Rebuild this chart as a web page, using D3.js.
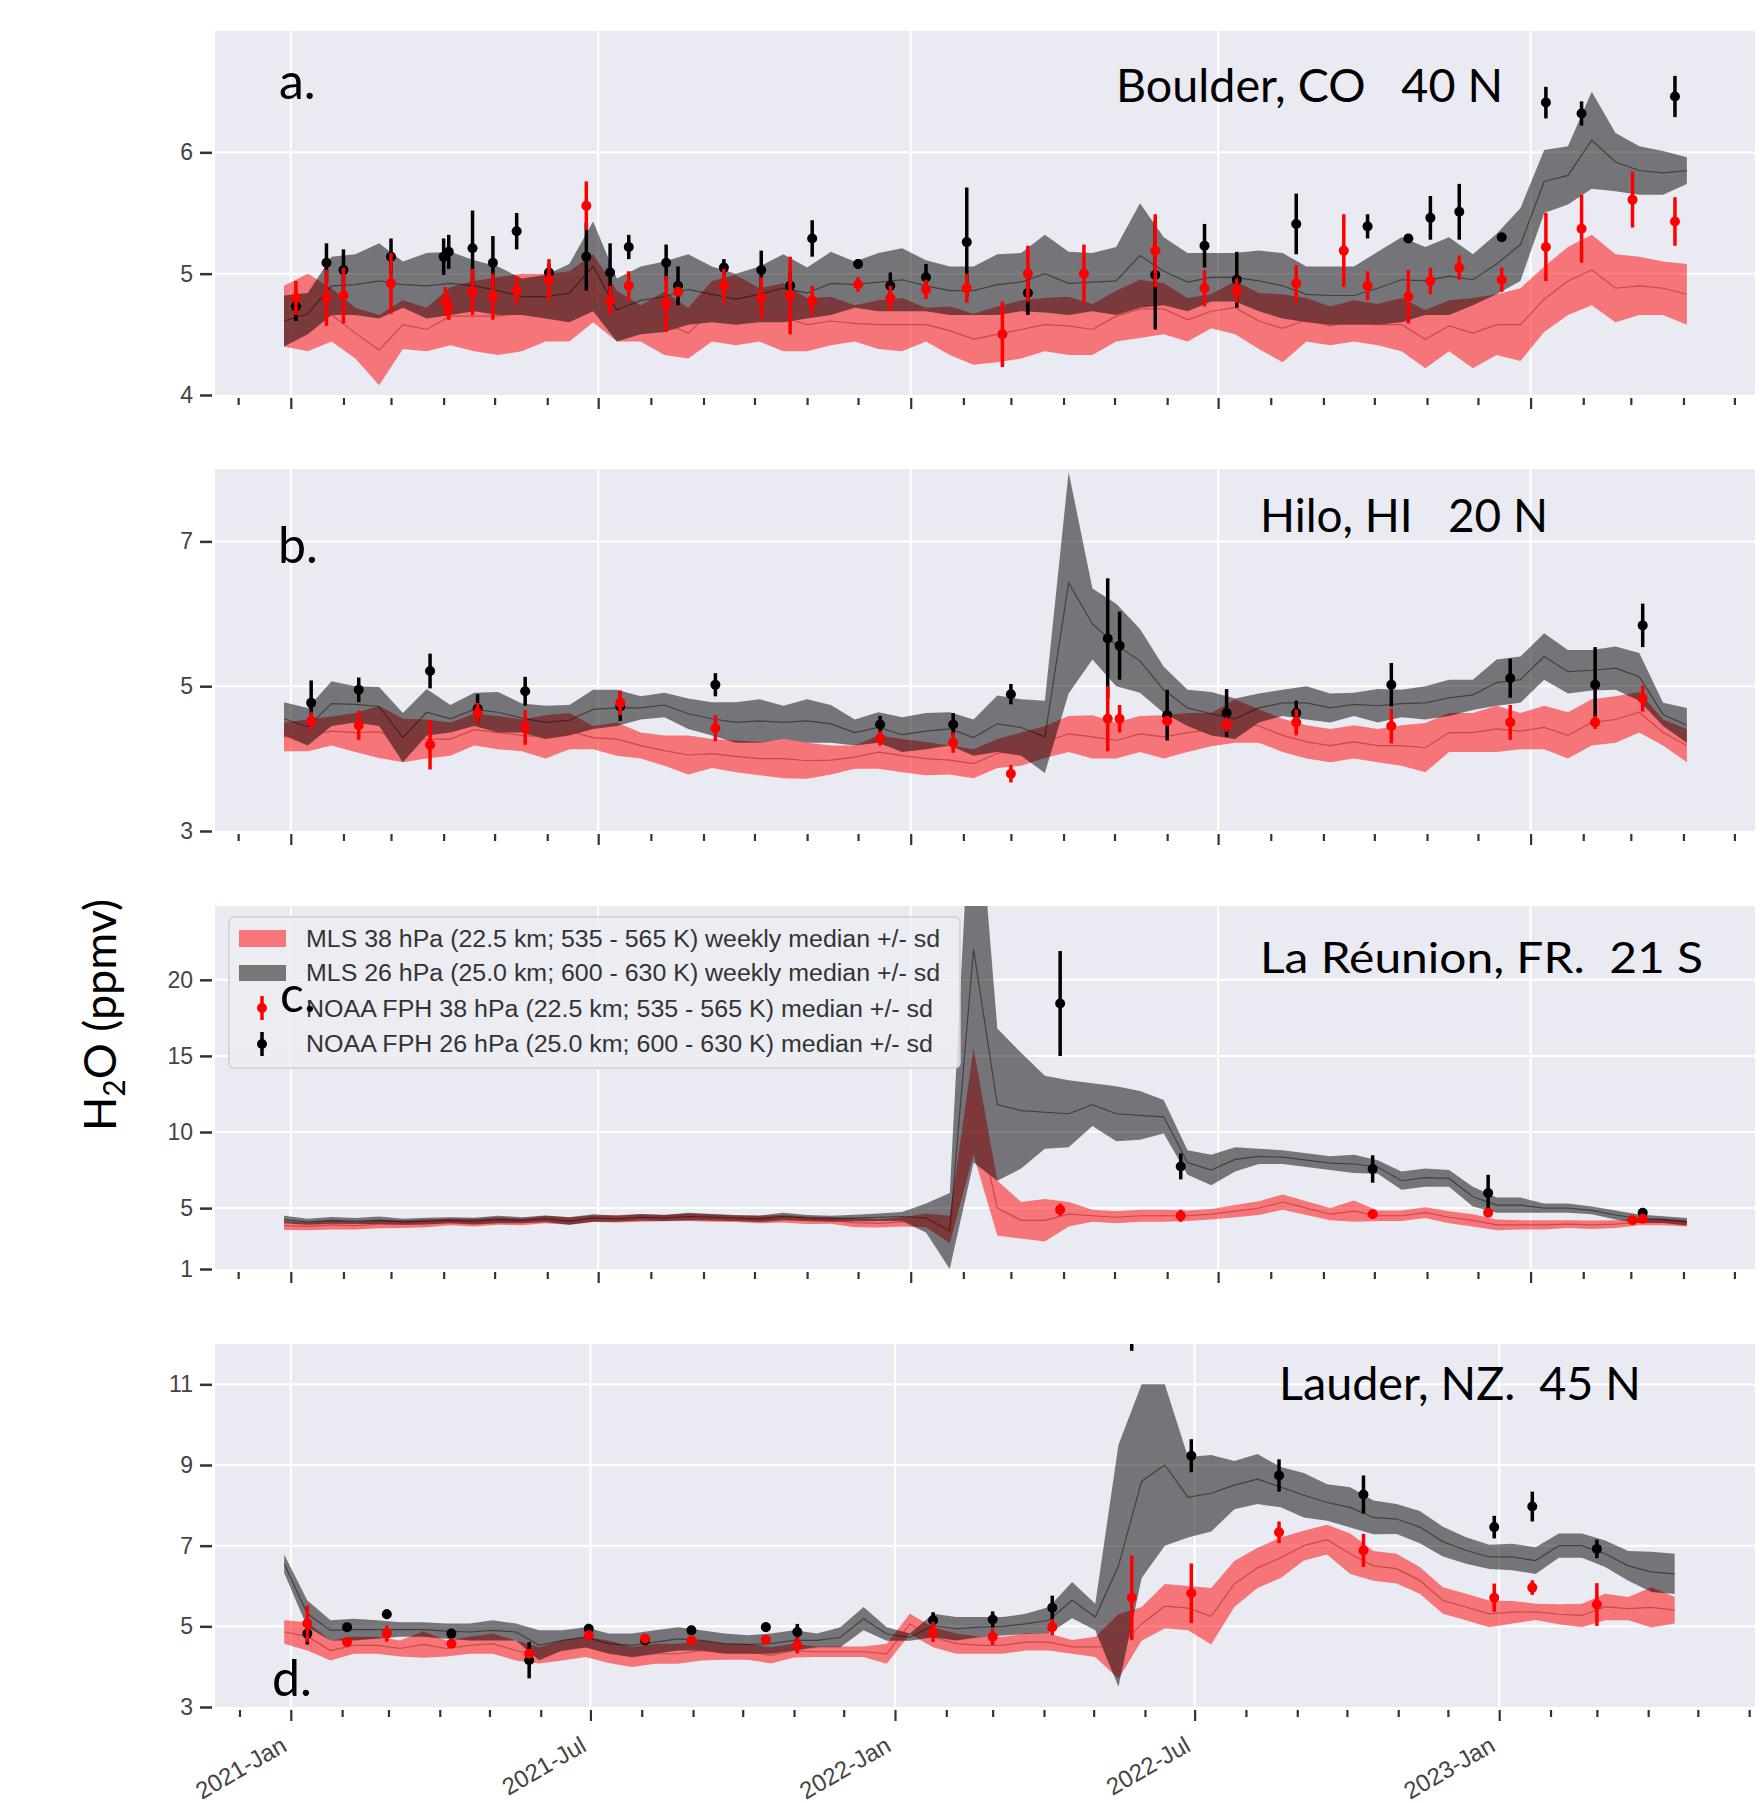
<!DOCTYPE html>
<html>
<head>
<meta charset="utf-8">
<script src="https://cdn.jsdelivr.net/npm/d3@7"></script>
<style>
  body { margin: 0; background: #fff; }
  svg { display: block; }
</style>
</head>
<body>
<div id="chart"></div>
<script>
// MLS weekly series: start date and spacing of the samples
const mlsStart = new Date(Date.UTC(2020, 11, 28));
const mlsStepDays = 14;

// Boulder, CO
const boulder26Mid = [4.61,4.67,4.9,4.91,4.94,4.91,4.9,4.92,4.9,4.86,4.81,4.81,4.84,5.06,4.7,4.78,4.81,4.87,4.83,4.79,4.83,4.88,4.84,4.92,4.91,4.93,4.95,4.9,4.86,4.86,4.91,4.93,5.0,4.92,4.93,4.94,5.15,5.02,4.93,4.97,4.97,4.94,4.9,4.83,4.82,4.82,4.88,4.95,4.94,4.98,4.95,5.08,5.24,5.76,5.81,6.1,5.92,5.85,5.83,5.85];
const boulder26Sd  = [.21,.17,.24,.25,.31,.19,.27,.26,.21,.2,.15,.18,.24,.37,.26,.28,.29,.29,.23,.21,.23,.28,.21,.26,.19,.24,.26,.21,.2,.2,.25,.24,.32,.26,.24,.28,.43,.28,.24,.2,.2,.25,.27,.23,.24,.24,.3,.35,.28,.32,.21,.25,.3,.26,.24,.4,.24,.2,.18,.11];
const boulder38Mid = [4.65,4.68,4.66,4.51,4.37,4.58,4.54,4.65,4.65,4.65,4.68,4.72,4.73,4.88,4.65,4.59,4.59,4.51,4.69,4.7,4.66,4.64,4.58,4.61,4.59,4.58,4.58,4.58,4.53,4.46,4.5,4.54,4.58,4.57,4.54,4.65,4.71,4.71,4.62,4.69,4.72,4.61,4.55,4.62,4.57,4.61,4.58,4.58,4.46,4.57,4.51,4.58,4.58,4.79,4.94,5.03,4.88,4.9,4.88,4.83];
const boulder38Sd  = [.25,.32,.22,.21,.29,.2,.18,.24,.29,.32,.32,.28,.29,.28,.21,.15,.26,.21,.25,.29,.22,.28,.22,.2,.15,.2,.22,.14,.2,.21,.23,.24,.22,.24,.21,.21,.24,.21,.18,.14,.22,.23,.28,.18,.16,.17,.17,.22,.24,.21,.29,.25,.3,.27,.28,.29,.28,.24,.22,.25];
const boulderFph26 = [["2021-01-04",4.73,.12],["2021-01-22",5.09,.16],["2021-02-01",5.03,.17],["2021-03-01",5.14,.15],["2021-04-01",5.14,.15],["2021-04-04",5.18,.14],["2021-04-18",5.21,.31],["2021-04-30",5.09,.22],["2021-05-14",5.35,.15],["2021-06-02",5.01,.07],["2021-06-24",5.14,.28],["2021-07-08",5.01,.24],["2021-07-19",5.22,.1],["2021-08-10",5.09,.15],["2021-08-17",4.9,.16],["2021-09-13",5.05,.07],["2021-10-05",5.03,.16],["2021-10-22",4.9,.12],["2021-11-04",5.29,.15],["2021-12-01",5.08,.04],["2021-12-20",4.9,.11],["2022-01-10",4.97,.11],["2022-02-03",5.26,.45],["2022-03-11",4.84,.18],["2022-05-25",4.99,.45],["2022-06-23",5.23,.18],["2022-07-12",4.95,.23],["2022-08-16",5.41,.25],["2022-09-27",5.39,.1],["2022-10-21",5.29,0],["2022-11-03",5.46,.18],["2022-11-20",5.51,.23],["2022-12-15",5.3,0],["2023-01-10",6.41,.13],["2023-01-31",6.32,.1],["2023-03-27",6.46,.17]];
const boulderFph38 = [["2021-01-04",4.8,.14],["2021-01-22",4.8,.23],["2021-02-01",4.82,.23],["2021-03-01",4.92,.25],["2021-04-02",4.77,.12],["2021-04-04",4.72,.1],["2021-04-18",4.85,.19],["2021-04-30",4.81,.19],["2021-05-14",4.86,.12],["2021-06-02",4.95,.17],["2021-06-24",5.56,.2],["2021-07-08",4.78,.12],["2021-07-19",4.9,.12],["2021-08-10",4.75,.23],["2021-08-17",4.85,.03],["2021-09-13",4.9,.14],["2021-10-05",4.8,.17],["2021-10-22",4.82,.32],["2021-11-04",4.78,.12],["2021-12-01",4.91,.06],["2021-12-20",4.8,.1],["2022-01-10",4.87,.08],["2022-02-03",4.88,.12],["2022-02-24",4.5,.27],["2022-03-11",5.0,.23],["2022-04-13",5.0,.24],["2022-05-25",5.19,.3],["2022-06-23",4.88,.15],["2022-07-12",4.86,.1],["2022-08-16",4.92,.15],["2022-09-13",5.19,.3],["2022-09-27",4.9,.12],["2022-10-21",4.81,.22],["2022-11-03",4.94,.11],["2022-11-20",5.05,.1],["2022-12-15",4.95,.1],["2023-01-10",5.22,.28],["2023-01-31",5.37,.28],["2023-03-02",5.61,.23],["2023-03-27",5.43,.2]];

// Hilo, HI
const hilo26Mid = [4.55,4.44,4.76,4.75,4.72,4.29,4.64,4.55,4.68,4.64,4.56,4.5,4.53,4.68,4.7,4.7,4.74,4.62,4.55,4.5,4.52,4.5,4.52,4.48,4.36,4.43,4.33,4.38,4.41,4.29,4.48,4.43,4.3,6.43,5.86,5.57,5.35,4.95,4.7,4.62,4.55,4.7,4.77,4.77,4.7,4.75,4.73,4.76,4.77,4.84,4.88,5.05,5.09,5.41,5.2,5.22,5.25,5.13,4.61,4.46];
const hilo26Sd  = [.23,.26,.31,.25,.27,.34,.32,.19,.23,.28,.2,.23,.21,.27,.25,.16,.17,.21,.23,.28,.3,.23,.3,.26,.18,.21,.24,.25,.23,.25,.39,.39,.5,1.53,.49,.57,.44,.32,.25,.3,.28,.2,.18,.23,.2,.16,.23,.19,.23,.25,.21,.32,.32,.32,.3,.28,.3,.33,.16,.24];
const hilo38Mid = [4.3,4.32,4.38,4.36,4.37,4.25,4.27,4.27,4.4,4.36,4.32,4.3,4.38,4.29,4.27,4.18,4.11,4.05,4.07,4.03,4.0,4.0,3.97,3.98,4.02,4.09,4.04,4.0,3.98,3.93,4.07,4.13,4.23,4.34,4.3,4.25,4.34,4.3,4.36,4.4,4.52,4.45,4.32,4.23,4.18,4.23,4.18,4.18,4.15,4.36,4.36,4.41,4.38,4.43,4.32,4.5,4.54,4.64,4.36,4.18];
const hilo38Sd  = [.2,.22,.2,.27,.36,.3,.27,.23,.22,.23,.22,.3,.25,.16,.23,.18,.21,.27,.2,.22,.23,.27,.25,.2,.16,.23,.23,.23,.2,.2,.2,.23,.22,.25,.3,.25,.25,.3,.27,.23,.3,.23,.23,.23,.23,.23,.23,.28,.34,.27,.27,.32,.25,.3,.32,.32,.32,.28,.18,.23];
const hiloFph26 = [["2021-01-13",4.77,.31],["2021-02-10",4.95,.17],["2021-03-24",5.21,.24],["2021-04-21",4.69,.2],["2021-05-19",4.93,.2],["2021-07-14",4.72,.2],["2021-09-08",5.02,.16],["2021-12-14",4.47,.12],["2022-01-26",4.47,.16],["2022-03-01",4.89,.14],["2022-04-27",5.66,.83],["2022-05-04",5.56,.47],["2022-06-01",4.6,.35],["2022-07-06",4.63,.33],["2022-08-16",4.63,.17],["2022-10-11",5.02,.3],["2022-12-20",5.11,.27],["2023-02-08",5.02,.52],["2023-03-08",5.84,.3]];
const hiloFph38 = [["2021-01-13",4.52,.12],["2021-02-10",4.46,.2],["2021-03-24",4.19,.34],["2021-04-21",4.63,.14],["2021-05-19",4.43,.24],["2021-07-14",4.77,.17],["2021-09-08",4.42,.18],["2021-12-14",4.28,.1],["2022-01-26",4.22,.14],["2022-03-01",3.79,.12],["2022-04-27",4.55,.45],["2022-05-04",4.55,.19],["2022-06-01",4.52,.07],["2022-07-06",4.47,.1],["2022-08-16",4.5,.18],["2022-10-11",4.45,.24],["2022-12-20",4.5,.24],["2023-02-08",4.5,.09],["2023-03-08",4.83,.18]];

// La Reunion
const reunion26Mid = [4.25,4.1,4.2,4.15,4.2,4.1,4.15,4.2,4.15,4.25,4.2,4.3,4.15,4.35,4.3,4.4,4.35,4.45,4.4,4.35,4.3,4.45,4.35,4.3,4.35,4.4,4.45,4.35,3.5,22,11.8,11.4,11.3,11.2,11.8,11.2,11.1,11.0,8.0,7.5,8.2,8.4,8.35,8.15,7.95,7.9,7.7,6.8,7.0,6.95,5.75,5.2,5.2,5.0,5.0,4.85,4.55,4.3,4.25,4.1];
const reunion26Sd  = [.25,.2,.22,.2,.25,.2,.22,.2,.22,.25,.2,.22,.25,.25,.2,.22,.2,.25,.22,.2,.22,.25,.2,.2,.22,.25,.3,.95,2.5,14,5,3.8,2.4,2.2,1.4,1.8,1.6,1.1,.8,1.0,.8,.5,.45,.45,.45,.6,.45,.6,.6,.55,.65,.5,.5,.3,.3,.25,.3,.28,.22,.25];
const reunion38Mid = [3.85,3.8,3.9,3.85,3.95,3.95,4.0,4.1,4.05,4.15,4.1,4.25,4.15,4.3,4.3,4.35,4.35,4.4,4.35,4.3,4.25,4.3,4.2,4.2,4.05,4.0,4.1,4.2,3.6,12,5.0,4.2,4.2,4.6,4.5,4.4,4.5,4.5,4.5,4.6,4.8,5.0,5.4,5.0,4.6,4.8,4.5,4.5,4.7,4.4,4.2,3.9,3.9,3.9,3.95,3.9,3.95,4.1,4.1,4.0];
const reunion38Sd  = [.28,.25,.3,.25,.28,.25,.25,.22,.25,.25,.22,.25,.25,.22,.25,.25,.22,.25,.25,.22,.25,.25,.25,.22,.3,.28,.3,.45,.9,3.5,1.8,1.2,1.4,.8,.4,.4,.4,.4,.35,.35,.4,.45,.5,.45,.4,.7,.35,.35,.35,.4,.4,.35,.3,.3,.25,.28,.25,.22,.22,.2];
const reunionFph26 = [["2022-03-30",18.44,3.45],["2022-06-09",7.74,.85],["2022-09-30",7.57,.9],["2022-12-07",5.99,1.2],["2023-03-08",4.7,.25]];
const reunionFph38 = [["2022-03-30",4.9,.4],["2022-06-09",4.5,.4],["2022-09-30",4.6,.1],["2022-12-07",4.7,.2],["2023-03-02",4.2,.1],["2023-03-08",4.3,.15]];

// Lauder, NZ
const lauder26Mid = [6.55,5.31,4.9,4.92,4.92,4.92,4.92,4.88,4.86,4.9,4.86,4.53,4.65,4.73,4.57,4.53,4.61,4.69,4.65,4.57,4.55,4.57,4.65,4.65,4.73,5.19,4.81,4.73,5.02,4.94,4.98,5.0,5.06,5.15,5.65,5.23,6.5,8.6,9.0,8.2,8.3,8.5,8.65,8.45,8.25,8.07,7.95,7.7,7.66,7.46,7.1,6.88,6.72,6.72,6.63,7.0,7.0,6.8,6.5,6.35,6.3];
const lauder26Sd  = [.23,.33,.25,.27,.23,.18,.18,.19,.21,.25,.21,.37,.25,.25,.25,.29,.29,.29,.25,.25,.23,.25,.25,.17,.25,.29,.17,.09,.29,.29,.25,.23,.25,.33,.45,.33,3.0,2.4,2.0,1.0,.95,.6,.62,.5,.55,.45,.5,.42,.37,.4,.37,.33,.3,.33,.33,.3,.3,.33,.37,.5,.5];
const lauder38Mid = [4.86,4.75,4.4,4.53,4.53,4.45,4.55,4.45,4.53,4.57,4.4,4.28,4.4,4.49,4.37,4.24,4.32,4.32,4.4,4.37,4.37,4.28,4.4,4.37,4.37,4.37,4.32,5.06,4.73,4.57,4.53,4.53,4.61,4.61,4.49,4.49,4.5,5.06,5.5,5.45,5.25,6.05,6.45,6.7,7.0,7.15,6.8,6.5,6.43,6.14,5.64,5.48,5.31,5.35,5.36,5.3,5.27,5.48,5.44,5.47,5.4];
const lauder38Sd  = [.29,.35,.25,.21,.21,.2,.33,.2,.21,.25,.25,.2,.25,.25,.28,.25,.25,.25,.25,.2,.2,.2,.17,.13,.13,.13,.25,.25,.25,.25,.21,.21,.21,.21,.17,.25,.8,.42,.55,.55,.7,.57,.5,.5,.37,.37,.5,.37,.37,.33,.33,.33,.33,.28,.2,.25,.29,.33,.29,.5,.33];
const lauderFph26 = [["2021-01-11",4.82,.27],["2021-02-04",4.98,.1],["2021-02-28",5.3,.12],["2021-04-08",4.82,.1],["2021-05-25",4.16,.45],["2021-06-30",4.94,.12],["2021-08-03",4.65,.1],["2021-08-31",4.9,.1],["2021-10-15",4.98,.12],["2021-11-03",4.86,.2],["2022-01-24",5.15,.2],["2022-03-01",5.17,.2],["2022-04-06",5.46,.3],["2022-05-24",13.0,1.17],["2022-06-29",9.23,.41],["2022-08-21",8.74,.4],["2022-10-11",8.27,.47],["2022-12-29",7.46,.28],["2023-01-21",7.97,.37],["2023-03-01",6.92,.23]];
const lauderFph38 = [["2021-01-11",5.07,.45],["2021-02-04",4.61,.08],["2021-02-28",4.82,.2],["2021-04-08",4.57,.1],["2021-05-25",4.32,.1],["2021-06-30",4.78,.1],["2021-08-03",4.7,.05],["2021-08-31",4.65,.1],["2021-10-15",4.67,.1],["2021-11-03",4.53,.2],["2022-01-24",4.86,.25],["2022-03-01",4.74,.2],["2022-04-06",4.98,.2],["2022-05-24",5.71,1.05],["2022-06-29",5.82,.74],["2022-08-21",7.33,.27],["2022-10-11",6.88,.41],["2022-12-29",5.71,.35],["2023-01-21",5.96,.18],["2023-03-01",5.54,.53]];

const legendLabels = [
  'MLS 38 hPa (22.5 km; 535 - 565 K) weekly median +/- sd',
  'MLS 26 hPa (25.0 km; 600 - 630 K) weekly median +/- sd',
  'NOAA FPH 38 hPa (22.5 km; 535 - 565 K) median +/- sd',
  'NOAA FPH 26 hPa (25.0 km; 600 - 630 K) median +/- sd'
];
const xLabelFormat = d3.utcFormat('%Y-%b');

// layout
const W = 1762, H = 1803;
const plotLeft = 215, plotRight = 1755;
const bgColor = '#eaeaf2';
const tickFont = '"Liberation Sans", Arial, sans-serif';
const titleFont = 'Lato, "Open Sans", sans-serif';

const panels = [
  {key: 'a', title: 'Boulder, CO   40 N', letter: 'a.', yDomain: [4, 7], yTicks: [4, 5, 6],
   top: 31, bottom: 395, xJan21: 290.8, xJan23: 1530.6,
   mid26: boulder26Mid, sd26: boulder26Sd, mid38: boulder38Mid, sd38: boulder38Sd,
   fph26: boulderFph26, fph38: boulderFph38,
   titlePos: [1116, 102, 387, 46], letterPos: [279, 99]},
  {key: 'b', title: 'Hilo, HI   20 N', letter: 'b.', yDomain: [3, 8], yTicks: [3, 5, 7],
   top: 469, bottom: 831, xJan21: 290.8, xJan23: 1530.6,
   mid26: hilo26Mid, sd26: hilo26Sd, mid38: hilo38Mid, sd38: hilo38Sd,
   fph26: hiloFph26, fph38: hiloFph38,
   titlePos: [1260, 532, 288, 46], letterPos: [278, 563]},
  {key: 'c', title: 'La Réunion, FR.  21 S', letter: 'c.', yDomain: [1, 24.85], yTicks: [1, 5, 10, 15, 20],
   top: 906, bottom: 1269, xJan21: 290.8, xJan23: 1530.6,
   mid26: reunion26Mid, sd26: reunion26Sd, mid38: reunion38Mid, sd38: reunion38Sd,
   fph26: reunionFph26, fph38: reunionFph38,
   titlePos: [1260, 973, 443, 42], letterPos: [280, 1012]},
  {key: 'd', title: 'Lauder, NZ.  45 N', letter: 'd.', yDomain: [3, 12], yTicks: [3, 5, 7, 9, 11],
   top: 1344, bottom: 1707, xJan21: 290.8, xJan23: 1499.2,
   mid26: lauder26Mid, sd26: lauder26Sd, mid38: lauder38Mid, sd38: lauder38Sd,
   fph26: lauderFph26, fph38: lauderFph38,
   titlePos: [1279, 1400, 362, 46], letterPos: [272, 1696], xLabels: true}
];

const svg = d3.select('#chart').append('svg')
  .attr('width', W)
  .attr('height', H)
  .attr('viewBox', `0 0 ${W} ${H}`);

svg.append('rect').attr('width', W).attr('height', H).attr('fill', '#fff');

const parseDate = d3.utcParse('%Y-%m-%d');
const defs = svg.append('defs');

panels.forEach(drawPanel);
drawLegend(panels[2]);
drawLetters();

// y axis label
const yLab = svg.append('text')
  .attr('transform', 'translate(116,1015) rotate(-90)')
  .attr('text-anchor', 'middle')
  .style('font-family', titleFont)
  .style('font-size', '45px')
  .attr('fill', '#000');
yLab.append('tspan').text('H');
yLab.append('tspan').text('2').style('font-size', '30px').attr('dy', 9);
yLab.append('tspan').text('O (ppmv)').attr('dy', -9);

function drawPanel(p) {
  const x = d3.scaleUtc()
    .domain([new Date(Date.UTC(2021, 0, 1)), new Date(Date.UTC(2023, 0, 1))])
    .range([p.xJan21, p.xJan23]);
  const y = d3.scaleLinear().domain(p.yDomain).range([p.bottom, p.top]);
  p.x = x; p.y = y;

  const g = svg.append('g').attr('class', 'panel-' + p.key);

  g.append('rect')
    .attr('x', plotLeft).attr('y', p.top)
    .attr('width', plotRight - plotLeft).attr('height', p.bottom - p.top)
    .attr('fill', bgColor);

  const months = d3.utcMonth.range(x.invert(plotLeft), x.invert(plotRight + 1));
  const majors = months.filter(d => d.getUTCMonth() % 6 === 0);

  // grid
  g.append('g').selectAll('line').data(p.yTicks.filter(v => v > p.yDomain[0])).join('line')
    .attr('x1', plotLeft).attr('x2', plotRight)
    .attr('y1', d => y(d)).attr('y2', d => y(d))
    .attr('stroke', '#fff').attr('stroke-width', 2);
  g.append('g').selectAll('line').data(majors).join('line')
    .attr('x1', d => x(d)).attr('x2', d => x(d))
    .attr('y1', p.top).attr('y2', p.bottom)
    .attr('stroke', '#fff').attr('stroke-width', 2);

  // data
  const clipId = 'clip-' + p.key;
  defs.append('clipPath').attr('id', clipId).append('rect')
    .attr('x', plotLeft).attr('y', p.top)
    .attr('width', plotRight - plotLeft).attr('height', p.bottom - p.top);
  const dg = g.append('g').attr('clip-path', `url(#${clipId})`);

  const toSeries = (mid, sd) => mid.map((m, i) => ({
    date: d3.utcDay.offset(mlsStart, i * mlsStepDays), mid: m, sd: sd[i]
  }));
  const s38 = toSeries(p.mid38, p.sd38);
  const s26 = toSeries(p.mid26, p.sd26);

  const area = d3.area()
    .x(d => x(d.date))
    .y0(d => y(d.mid - d.sd))
    .y1(d => y(d.mid + d.sd));
  const line = d3.line().x(d => x(d.date)).y(d => y(d.mid));

  dg.append('path').datum(s38).attr('d', area).attr('fill', '#ff0000').attr('fill-opacity', 0.5);
  dg.append('path').datum(s26).attr('d', area).attr('fill', '#000').attr('fill-opacity', 0.5);
  dg.append('path').datum(s38).attr('d', line).attr('fill', 'none')
    .attr('stroke', '#b02020').attr('stroke-opacity', 0.55).attr('stroke-width', 1.2);
  dg.append('path').datum(s26).attr('d', line).attr('fill', 'none')
    .attr('stroke', '#000').attr('stroke-opacity', 0.45).attr('stroke-width', 1.2);

  drawPoints(dg, p.fph26, '#000', x, y);
  drawPoints(dg, p.fph38, '#ff0000', x, y);

  // y axis
  const yAxis = g.append('g')
    .attr('transform', `translate(212,0)`)
    .call(d3.axisLeft(y).tickValues(p.yTicks).tickSize(12).tickPadding(7).tickFormat(d3.format('d')));
  yAxis.select('.domain').remove();
  yAxis.selectAll('line').attr('stroke', '#333').attr('stroke-width', 2.5);
  yAxis.selectAll('text')
    .style('font-family', tickFont).style('font-size', '23px').attr('fill', '#444');

  // x ticks
  const xAxis = g.append('g')
    .attr('transform', `translate(0,${p.bottom + 3})`)
    .call(d3.axisBottom(x).tickValues(months).tickSize(7).tickFormat(''));
  xAxis.select('.domain').remove();
  xAxis.selectAll('line').attr('stroke', '#333').attr('stroke-width', 2.2)
    .attr('y2', d => d.getUTCMonth() % 6 === 0 ? 11 : 7);

  if (p.xLabels) {
    const lab = g.append('g')
      .attr('transform', `translate(0,${p.bottom})`)
      .call(d3.axisBottom(x).tickValues(majors).tickSize(0).tickFormat(xLabelFormat));
    lab.select('.domain').remove();
    lab.selectAll('text')
      .attr('x', 0).attr('y', 0).attr('dy', null)
      .attr('transform', 'translate(-3,43) rotate(-30)')
      .attr('text-anchor', 'end')
      .style('font-family', tickFont).style('font-size', '24px').attr('fill', '#444');
  }

  // station title
  const [tx, ty, tw, tfs] = p.titlePos;
  g.append('text')
    .attr('x', tx).attr('y', ty)
    .attr('textLength', tw).attr('lengthAdjust', 'spacingAndGlyphs')
    .style('white-space', 'pre')
    .style('font-family', titleFont).style('font-size', tfs + 'px')
    .attr('fill', '#000')
    .text(p.title);
}

function drawPoints(g, pts, color, x, y) {
  const data = pts.map(d => ({date: parseDate(d[0]), v: d[1], sd: d[2]}));
  const pg = g.append('g');
  pg.selectAll('line').data(data).join('line')
    .attr('x1', d => x(d.date)).attr('x2', d => x(d.date))
    .attr('y1', d => y(d.v - d.sd)).attr('y2', d => y(d.v + d.sd))
    .attr('stroke', color).attr('stroke-width', 3.5);
  pg.selectAll('circle').data(data).join('circle')
    .attr('cx', d => x(d.date)).attr('cy', d => y(d.v)).attr('r', 5)
    .attr('fill', color);
}

function drawLegend(p) {
  const lg = svg.append('g');
  lg.append('rect')
    .attr('x', 229).attr('y', 917).attr('width', 731).attr('height', 151)
    .attr('rx', 5)
    .attr('fill', '#ececf3').attr('fill-opacity', 0.85)
    .attr('stroke', '#cfcfd6').attr('stroke-width', 1.5);

  const rowsY = [947, 981, 1017, 1052];
  const widths = [634, 634, 627, 627];
  lg.append('rect').attr('x', 239).attr('y', 930).attr('width', 47).attr('height', 17)
    .attr('fill', '#ff0000').attr('fill-opacity', 0.5);
  lg.append('rect').attr('x', 239).attr('y', 965).attr('width', 47).attr('height', 16)
    .attr('fill', '#000').attr('fill-opacity', 0.5);
  [['#ff0000', 1008], ['#000', 1044]].forEach(([c, cy]) => {
    lg.append('line').attr('x1', 262).attr('x2', 262).attr('y1', cy - 12).attr('y2', cy + 12)
      .attr('stroke', c).attr('stroke-width', 3.5);
    lg.append('circle').attr('cx', 262).attr('cy', cy).attr('r', 5).attr('fill', c);
  });
  lg.selectAll('text.leg').data(legendLabels).join('text')
    .attr('class', 'leg')
    .attr('x', 306).attr('y', (d, i) => rowsY[i])
    .attr('textLength', (d, i) => widths[i]).attr('lengthAdjust', 'spacingAndGlyphs')
    .style('font-family', tickFont).style('font-size', '23px').attr('fill', '#333')
    .text(d => d);
}

function drawLetters() {
  panels.forEach(p => {
    svg.append('text')
      .attr('x', p.letterPos[0]).attr('y', p.letterPos[1])
      .style('font-family', titleFont).style('font-size', '50px')
      .attr('fill', '#000')
      .text(p.letter);
  });
}
</script>
</body>
</html>
